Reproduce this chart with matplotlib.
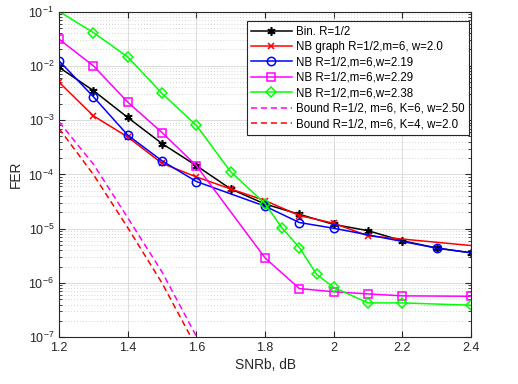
import matplotlib
matplotlib.use("Agg")
import matplotlib.pyplot as plt
from matplotlib.ticker import FixedLocator, NullFormatter, NullLocator

plt.rcParams["font.family"] = ["Liberation Sans", "DejaVu Sans"]
plt.rcParams["mathtext.fontset"] = "custom"
plt.rcParams["mathtext.rm"] = "Liberation Sans"
plt.rcParams["mathtext.it"] = "Liberation Sans:italic"

# values
snr_bin = [1.2, 1.3, 1.4, 1.5, 1.6, 1.7, 1.8, 1.9, 2.0, 2.1, 2.2, 2.3, 2.4]
fer_bin = [9.4e-3, 3.5e-3, 1.12e-3, 3.7e-4, 1.45e-4, 5.4e-5, 2.85e-5, 1.84e-5,
           1.2e-5, 9.2e-6, 6.0e-6, 4.4e-6, 3.6e-6]

snr_nbg = [1.2, 1.3, 1.4, 1.5, 1.6, 1.7, 1.8, 1.9, 2.0, 2.1, 2.4]
fer_nbg = [5.0e-3, 1.2e-3, 4.9e-4, 1.6e-4, 9.0e-5, 5.4e-5, 3.3e-5, 1.75e-5,
           1.26e-5, 7.4e-6, 4.9e-6]

snr_219 = [1.2, 1.3, 1.4, 1.5, 1.6, 1.8, 1.9, 2.0, 2.3, 2.4]
fer_219 = [1.24e-2, 2.7e-3, 5.3e-4, 1.78e-4, 7.4e-5, 2.6e-5, 1.3e-5, 1.02e-5,
           4.4e-6, 3.6e-6]

snr_229 = [1.2, 1.3, 1.4, 1.5, 1.6, 1.8, 1.9, 2.0, 2.1, 2.2, 2.4]
fer_229 = [3.1e-2, 1.0e-2, 2.15e-3, 5.9e-4, 1.45e-4, 2.9e-6, 7.9e-7, 6.9e-7,
           6.3e-7, 5.8e-7, 5.7e-7]

snr_238 = [1.2, 1.3, 1.4, 1.5, 1.6, 1.7, 1.8, 1.85, 1.9, 1.95, 2.0, 2.1, 2.2, 2.4]
fer_238 = [1.0e-1, 4.1e-2, 1.46e-2, 3.1e-3, 8.0e-4, 1.12e-4, 2.9e-5, 1.02e-5,
           4.5e-6, 1.45e-6, 8.3e-7, 4.3e-7, 4.3e-7, 3.9e-7]

snr_bound = [1.2, 1.3, 1.4, 1.5, 1.6, 1.7]
fer_bound_k6 = [9.3e-4, 1.55e-4, 1.6e-5, 1.6e-6, 1.05e-7, 5e-9]
fer_bound_k4 = [7.0e-4, 1.0e-4, 1.05e-5, 1.0e-6, 6.6e-8, 3e-9]

labels = ["Bin. R=1/2", "NB graph R=1/2,m=6, w=2.0", "NB R=1/2,m=6,w=2.19",
          "NB R=1/2,m=6,w=2.29", "NB R=1/2,m=6,w=2.38",
          "Bound R=1/2, m=6, K=6, w=2.50", "Bound R=1/2, m=6, K=4, w=2.0"]

x_ticks = [1.2, 1.4, 1.6, 1.8, 2.0, 2.2, 2.4]
x_ticklabels = ["1.2", "1.4", "1.6", "1.8", "2", "2.2", "2.4"]
y_exps = [-7, -6, -5, -4, -3, -2, -1]

fig = plt.figure(figsize=(5.18, 3.84), dpi=100)
ax = fig.add_axes([0.1139, 0.1216, 0.7954, 0.8484])

lw = 1.1
ms = 6
ax.plot(snr_bin, fer_bin, color="k", marker=(6, 2, 0), lw=lw, ms=ms, mew=1.2,
        label=labels[0])
ax.plot(snr_nbg, fer_nbg, color="#ff0000", marker="x", lw=lw, ms=5, mew=1.1,
        markevery=list(range(10)), label=labels[1])
ax.plot(snr_219, fer_219, color="#0000ff", marker="o", lw=lw, ms=ms, mew=1.1,
        mfc="none", markevery=list(range(9)), label=labels[2])
ax.plot(snr_229, fer_229, color="#ff00ff", marker="s", lw=lw, ms=5.5, mew=1.1,
        mfc="none", label=labels[3])
ax.plot(snr_238, fer_238, color="#00ff00", marker="D", lw=lw, ms=5.5, mew=1.1,
        mfc="none", markevery=list(range(1, len(snr_238))), label=labels[4])
ax.plot(snr_bound, fer_bound_k6, color="#ff00ff", ls=(0, (4, 2.5)), lw=lw,
        label=labels[5])
ax.plot(snr_bound, fer_bound_k4, color="#ff0000", ls=(0, (4, 2.5)), lw=lw,
        label=labels[6])

ax.set_yscale("log")
ax.set_xlim(1.2, 2.4)
ax.set_ylim(1e-7, 1e-1)
ax.set_xticks(x_ticks)
ax.set_xticklabels(x_ticklabels)
ax.xaxis.set_minor_locator(NullLocator())
ax.set_yticks([10.0 ** e for e in y_exps])
ax.set_yticklabels([r"$\mathdefault{10^{%d}}$" % e for e in y_exps])
ax.yaxis.set_minor_locator(FixedLocator(
    [k * 10.0 ** e for e in y_exps[:-1] for k in range(2, 10)]))
ax.yaxis.set_minor_formatter(NullFormatter())

ax.grid(True, which="major", color="#dcdcdc", lw=0.7, ls="-")
ax.grid(True, which="minor", axis="y", color="#c8c8c8", lw=0.6, ls=(0, (1, 2.5)))
ax.set_axisbelow(True)

for s in ax.spines.values():
    s.set_color("#262626")
    s.set_linewidth(0.8)
ax.tick_params(which="both", direction="in", top=True, right=True,
               colors="#262626", labelsize=9)
ax.tick_params(which="major", length=4)
ax.tick_params(which="minor", length=2)

ax.set_xlabel("SNRb, dB", fontsize=9.9, color="#262626", labelpad=3)
ax.set_ylabel("FER", fontsize=9.9, color="#262626", labelpad=4)

leg = ax.legend(loc="upper right", bbox_to_anchor=(0.996, 0.971),
                borderaxespad=0, fontsize=8.3, handlelength=3.5,
                handletextpad=0.4, labelspacing=0.3, borderpad=0.4,
                fancybox=False, framealpha=1)
leg.get_frame().set_edgecolor("#262626")
leg.get_frame().set_linewidth(0.8)

fig.savefig("out.png", dpi=100)
